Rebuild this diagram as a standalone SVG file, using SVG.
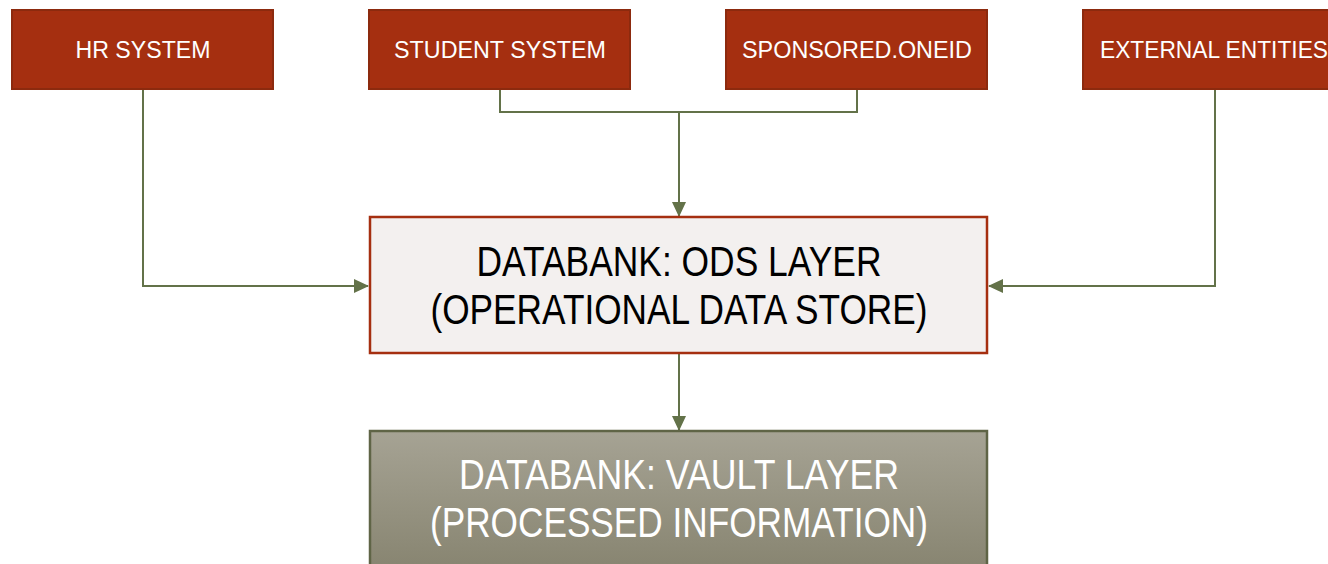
<svg xmlns="http://www.w3.org/2000/svg" width="1328" height="564" viewBox="0 0 1328 564">
<style>
.src rect{fill:#A52F10;stroke:#8C2A0E;stroke-width:2}
.src text{fill:#FFFFFF;font-family:"Liberation Sans",Arial,sans-serif;font-size:23px;text-anchor:middle}
.big{font-family:"Liberation Sans",Arial,sans-serif;font-size:42px;text-anchor:middle}
.conn{fill:none;stroke:#637249;stroke-width:2}
</style>
<defs>
<marker id="arr" markerWidth="15" markerHeight="14" refX="14" refY="7" orient="auto" markerUnits="userSpaceOnUse">
<path d="M0,0 L15,7 L0,14 z" fill="#637249"/>
</marker>
<linearGradient id="vg" x1="0" y1="0" x2="0" y2="1">
<stop offset="0" stop-color="#A6A394"/>
<stop offset="1" stop-color="#878470"/>
</linearGradient>
</defs>
<g id="connectors">
<polyline class="conn" points="143,89 143,286 368,286" marker-end="url(#arr)"/>
<polyline class="conn" points="500,89 500,112 857,112 857,89"/>
<polyline class="conn" points="679,112 679,216" marker-end="url(#arr)"/>
<polyline class="conn" points="1215,89 1215,286 989,286" marker-end="url(#arr)"/>
<polyline class="conn" points="679,353 679,430" marker-end="url(#arr)"/>
</g>
<g id="hr" class="src"><rect x="12" y="10" width="261" height="79"/><text x="143" y="58" textLength="135" lengthAdjust="spacingAndGlyphs">HR SYSTEM</text></g>
<g id="student" class="src"><rect x="369" y="10" width="261" height="79"/><text x="500" y="58" textLength="212" lengthAdjust="spacingAndGlyphs">STUDENT SYSTEM</text></g>
<g id="sponsored" class="src"><rect x="726" y="10" width="261" height="79"/><text x="857" y="58" textLength="230" lengthAdjust="spacingAndGlyphs">SPONSORED.ONEID</text></g>
<g id="external" class="src"><rect x="1083" y="10" width="261" height="79"/><text x="1214" y="58" textLength="228" lengthAdjust="spacingAndGlyphs">EXTERNAL ENTITIES</text></g>
<g id="ods">
<rect x="370" y="217" width="617" height="136" fill="#F3F0EF" stroke="#A52F10" stroke-width="2.5"/>
<text class="big" x="679" y="276" fill="#000" textLength="405" lengthAdjust="spacingAndGlyphs">DATABANK: ODS LAYER</text>
<text class="big" x="679" y="324" fill="#000" textLength="497" lengthAdjust="spacingAndGlyphs">(OPERATIONAL DATA STORE)</text>
</g>
<g id="vault">
<rect x="370" y="431" width="617" height="140" fill="url(#vg)" stroke="#5F6446" stroke-width="2.5"/>
<text class="big" x="679" y="489" fill="#FFF" textLength="440" lengthAdjust="spacingAndGlyphs">DATABANK: VAULT LAYER</text>
<text class="big" x="679" y="537" fill="#FFF" textLength="498" lengthAdjust="spacingAndGlyphs">(PROCESSED INFORMATION)</text>
</g>
</svg>
